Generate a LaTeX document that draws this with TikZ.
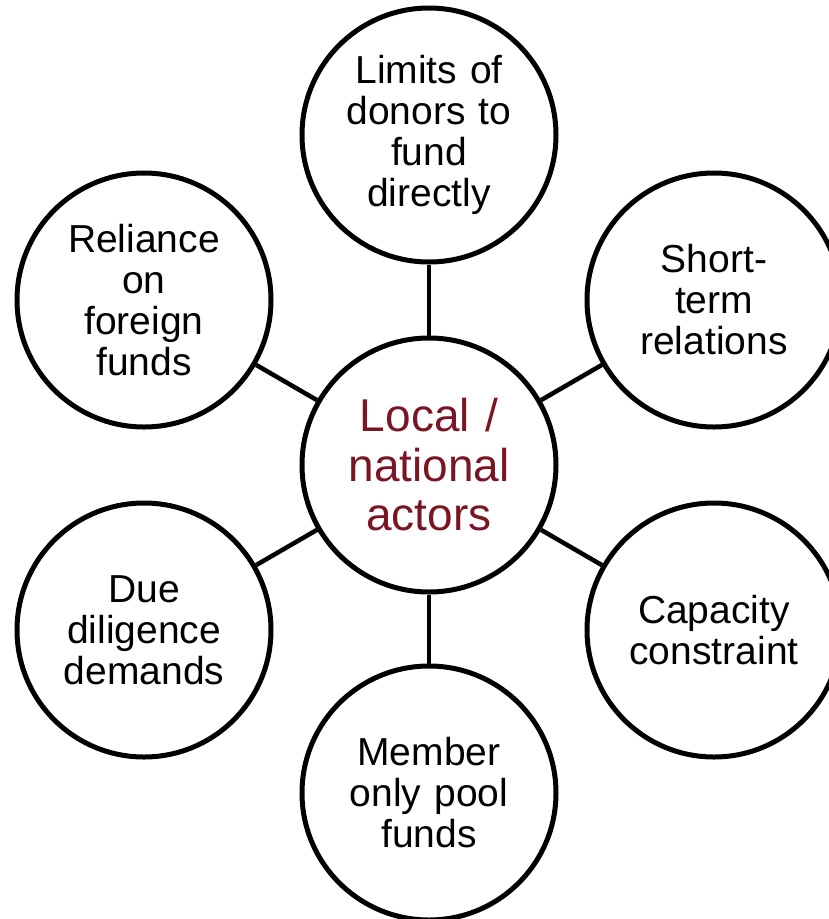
\documentclass[tikz,border=0pt]{standalone}
\usepackage{fontspec}
\setmainfont{Liberation Sans}
\definecolor{maroon}{RGB}{122,22,36}
\begin{document}
\begin{tikzpicture}[x=1pt,y=1pt,
  bubble/.style={draw=black,line width=5pt,circle,minimum size=254pt,inner sep=0pt,
    text width=176pt,align=center,font=\fontsize{39}{41}\selectfont},
  hub/.style={bubble,text=maroon,font=\fontsize{46}{49.5}\selectfont},
  link/.style={line width=4.5pt}]
\useasboundingbox (0,0) rectangle (829,-919);
\clip (0,0) rectangle (829,-919);
\node[hub] (c) at (429,-465) {Local /\\national\\actors};
\node[bubble] (t) at (429,-135) {Limits of\\donors to\\fund\\directly};
\node[bubble] (tr) at (714,-300) {Short-\\term\\relations};
\node[bubble] (br) at (714,-630) {Capacity\\constraint};
\node[bubble] (b) at (429,-793) {Member\\only pool\\funds};
\node[bubble] (bl) at (144,-630) {Due\\diligence\\demands};
\node[bubble] (tl) at (144,-300) {Reliance\\on\\foreign\\funds};
\draw[link] (c) -- (t);
\draw[link] (c) -- (tr);
\draw[link] (c) -- (br);
\draw[link] (c) -- (b);
\draw[link] (c) -- (bl);
\draw[link] (c) -- (tl);
\end{tikzpicture}
\end{document}
